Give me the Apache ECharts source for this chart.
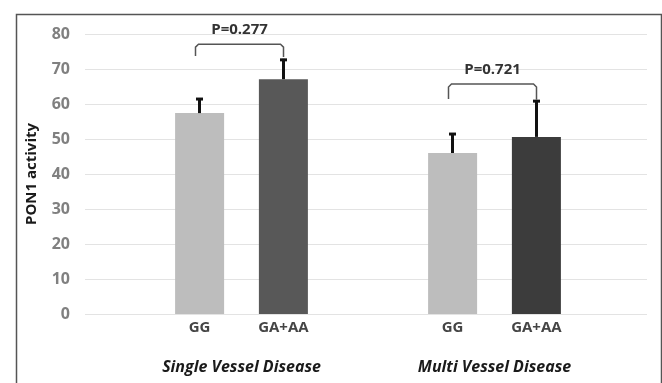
<!DOCTYPE html>
<html>
<head>
<meta charset="utf-8">
<script src="https://cdn.jsdelivr.net/npm/echarts@6/dist/echarts.min.js"></script>
<style>html,body{margin:0;padding:0;background:#fff;}#c{width:662px;height:383px;}</style>
</head>
<body>
<div id="c"></div>
<script>
// ---- data ----
const groups = ['Single Vessel Disease', 'Multi Vessel Disease'];
const genotypes = ['GG', 'GA+AA'];
const ggMean = [57.4, 46.0];
const ggErr = [4.3, 5.7];
const gaMean = [67.1, 50.6];
const gaErr = [5.8, 10.5];
const pLabels = ['P=0.277', 'P=0.721'];
const bracketTop = [77.1, 65.7];
const bracketLeftBottom = [73.7, 61.4];
const bracketRightBottom = [73.4, 61.2];
const yTicks = [0, 10, 20, 30, 40, 50, 60, 70, 80];

// ---- layout constants ----
const BAR_W = 49;
const HALF = 42; // half distance between paired bar centres
const FONT = '"Open Sans", sans-serif';

function errSeries(means, errs, sign) {
  return {
    type: 'custom', xAxisIndex: 1, yAxisIndex: 1, z: 5, silent: true,
    data: means.map((m, i) => [i, m, m + errs[i]]),
    renderItem: function (params, api) {
      const b = api.coord([api.value(0), api.value(1)]);
      const t = api.coord([api.value(0), api.value(2)]);
      const x = b[0] + sign * HALF;
      return {
        type: 'group', children: [
          { type: 'line', shape: { x1: x, y1: b[1], x2: x, y2: t[1] }, style: { stroke: '#111', lineWidth: 3 } },
          { type: 'line', shape: { x1: x - 3.5, y1: t[1] + 1, x2: x + 3.5, y2: t[1] + 1 }, style: { stroke: '#111', lineWidth: 3 } }
        ]
      };
    }
  };
}

const chart = echarts.init(document.getElementById('c'));
chart.setOption({
  animation: false,
  backgroundColor: '#fff',
  textStyle: { fontFamily: FONT },
  graphic: [{
    type: 'rect', left: 14, top: 12,
    shape: { x: 0, y: 0, width: 645, height: 400 },
    style: { fill: 'none', stroke: '#555', lineWidth: 1.5 }, z: 100
  }],
  grid: [
    { left: 85, right: 15, top: 34, bottom: 69 },
    { left: 115, right: 41, top: 34, bottom: 69 }
  ],
  xAxis: [
    { gridIndex: 0, type: 'category', data: groups, show: false },
    {
      gridIndex: 1, type: 'category', data: groups,
      axisLine: { show: false }, axisTick: { show: false },
      axisLabel: { margin: 45, fontFamily: FONT, fontSize: 16, fontWeight: 'bold', fontStyle: 'italic', color: '#1a1a1a' }
    }
  ],
  yAxis: [
    {
      gridIndex: 0, type: 'value', min: 0, max: 80, interval: 10,
      name: 'PON1 activity', nameLocation: 'middle', nameRotate: 90, nameGap: 46,
      nameTextStyle: { fontFamily: FONT, fontSize: 15, fontWeight: 'bold', color: '#1a1a1a' },
      axisLine: { show: false }, axisTick: { show: false },
      axisLabel: { margin: 15, fontFamily: FONT, fontSize: 16, fontWeight: 'bold', color: '#808080',
        formatter: v => yTicks.includes(v) ? String(v) : '' },
      splitLine: { lineStyle: { color: '#e3e3e3', width: 1 } }
    },
    { gridIndex: 1, type: 'value', min: 0, max: 80, interval: 10, show: false }
  ],
  series: [
    {
      name: genotypes[0], type: 'bar', xAxisIndex: 1, yAxisIndex: 1,
      barWidth: BAR_W, barGap: '71%',
      data: ggMean, itemStyle: { color: '#bdbdbd' },
      label: { show: true, position: 'bottom', distance: 6, formatter: '{a}',
        fontFamily: FONT, fontSize: 15, fontWeight: 'bold', color: '#454545' }
    },
    {
      name: genotypes[1], type: 'bar', xAxisIndex: 1, yAxisIndex: 1,
      barWidth: BAR_W,
      data: gaMean.map((v, i) => ({ value: v, itemStyle: { color: i === 0 ? '#585858' : '#3c3c3c' } })),
      label: { show: true, position: 'bottom', distance: 6, formatter: '{a}',
        fontFamily: FONT, fontSize: 15, fontWeight: 'bold', color: '#454545' }
    },
    errSeries(ggMean, ggErr, -1),
    errSeries(gaMean, gaErr, 1),
    {
      type: 'custom', xAxisIndex: 1, yAxisIndex: 1, z: 6, silent: true, clip: false,
      data: groups.map((g, i) => [i, bracketTop[i], bracketLeftBottom[i], bracketRightBottom[i]]),
      renderItem: function (params, api) {
        const i = api.value(0);
        const top = api.coord([i, api.value(1)]);
        const lb = api.coord([i, api.value(2)]);
        const rb = api.coord([i, api.value(3)]);
        const xl = top[0] - HALF - 4, xr = top[0] + HALF;
        const r = 3;
        return {
          type: 'group', children: [
            { type: 'polyline', shape: { points: [[xl, lb[1]], [xl, top[1] + r], [xl + r, top[1]], [xr - r, top[1]], [xr, top[1] + r], [xr, rb[1]]] },
              style: { stroke: '#555', lineWidth: 1.5, fill: 'none' } },
            { type: 'text', x: (xl + xr) / 2, y: top[1] - 14,
              style: { text: pLabels[params.dataIndex], align: 'center', verticalAlign: 'middle',
                font: 'bold 15px ' + FONT, fill: '#333' } }
          ]
        };
      }
    }
  ]
});
</script>
</body>
</html>
